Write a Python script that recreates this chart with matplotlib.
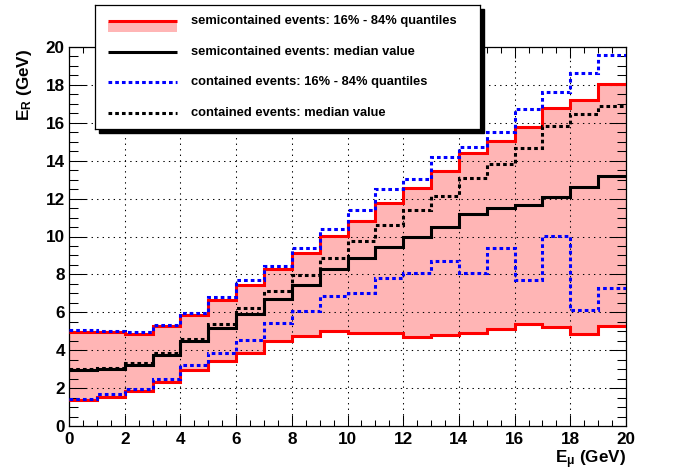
import numpy as np
import matplotlib
matplotlib.use("Agg")
import matplotlib.pyplot as plt
from matplotlib.patches import Rectangle

# Bin edges of E_mu (GeV)
edges = np.arange(0, 21, 1)

# semicontained events
semi_lo = [1.37, 1.55, 1.86, 2.34, 2.95, 3.43, 3.85, 4.47, 4.75, 5.01,
           4.89, 4.89, 4.71, 4.80, 4.89, 5.10, 5.36, 5.20, 4.85, 5.29]
semi_hi = [4.95, 4.95, 4.84, 5.28, 5.86, 6.65, 7.42, 8.27, 9.13, 10.05,
           10.82, 11.77, 12.54, 13.46, 14.39, 15.02, 15.76, 16.76, 17.20, 18.07]
semi_med = [2.94, 2.99, 3.22, 3.75, 4.47, 5.15, 5.89, 6.70, 7.42, 8.28,
            8.85, 9.43, 9.99, 10.48, 11.19, 11.49, 11.66, 12.07, 12.63, 13.18]

# contained events
cont_lo = [1.40, 1.67, 1.97, 2.50, 3.22, 3.87, 4.52, 5.42, 6.07, 6.85,
           7.00, 7.79, 8.06, 8.71, 8.06, 9.38, 7.70, 10.03, 6.12, 7.27]
cont_hi = [5.05, 5.00, 4.94, 5.31, 5.96, 6.79, 7.70, 8.46, 9.38, 10.41,
           11.39, 12.49, 13.02, 14.18, 14.74, 15.50, 16.71, 17.61, 18.61, 19.58]
cont_med = [3.00, 3.08, 3.32, 3.87, 4.59, 5.36, 6.23, 7.12, 7.97, 8.86,
            9.74, 10.61, 11.40, 12.14, 13.10, 13.81, 14.65, 15.83, 16.46, 16.89]

labels = ["semicontained events: 16% - 84% quantiles",
          "semicontained events: median value",
          "contained events: 16% - 84% quantiles",
          "contained events: median value"]

plt.rcParams["font.family"] = "Liberation Sans"
plt.rcParams["font.weight"] = "bold"
plt.rcParams["mathtext.fontset"] = "custom"
plt.rcParams["mathtext.rm"] = "Liberation Sans:bold"

W, H = 696, 474
fig = plt.figure(figsize=(W / 100, H / 100), dpi=100)
ax = fig.add_axes([69 / W, 48 / H, 557 / W, 379 / H])

pink = "#ffb5b5"
lw = 2.2
dots = (0, (1.2, 1.0))

# band + lines
ax.stairs(semi_hi, edges, baseline=semi_lo, fill=True, color=pink, lw=0, zorder=1)
ax.stairs(semi_hi, edges, baseline=None, color="red", lw=lw, zorder=3)
ax.stairs(semi_lo, edges, baseline=None, color="red", lw=lw, zorder=3)
ax.stairs(semi_med, edges, baseline=None, color="black", lw=lw, zorder=3)
ax.stairs(cont_hi, edges, baseline=None, color="blue", lw=lw, ls=dots, zorder=4)
ax.stairs(cont_lo, edges, baseline=None, color="blue", lw=lw, ls=dots, zorder=4)
ax.stairs(cont_med, edges, baseline=None, color="black", lw=lw, ls=dots, zorder=4)

ax.set_xlim(0, 20)
ax.set_ylim(0, 20)
ax.set_xticks(np.arange(0, 21, 2))
ax.set_yticks(np.arange(0, 21, 2))
ax.set_xticks(np.arange(0, 20.01, 0.5), minor=True)
ax.set_yticks(np.arange(0, 20.01, 0.5), minor=True)
ax.grid(True, which="major", color="black", lw=0.75, ls=(0, (1.3, 4)), zorder=2)

ax.tick_params(which="both", direction="in", top=True, right=True, width=0.75,
               labelsize=12.3)
ax.tick_params(axis="x", which="major", length=8, pad=4)
ax.tick_params(axis="x", which="minor", length=4.3)
ax.tick_params(axis="y", which="major", length=12.5, pad=3)
ax.tick_params(axis="y", which="minor", length=6.2)
for s in ax.spines.values():
    s.set_linewidth(0.9)

fig.text(626 / W, (H - 448) / H, r"$\mathrm{E_{μ}}$ (GeV)", ha="right", va="top",
         fontsize=12.3)
fig.text(25 / W, (H - 49) / H, r"$\mathrm{E_{R}}$ (GeV)", ha="center", va="top",
         rotation=90, fontsize=12.3)

# legend box with shadow (pixel coordinates, y from top)
lx, ly, lwid, lht = 95, 5, 385, 124
fig.patches.append(Rectangle(((lx + 4) / W, (H - ly - lht - 4) / H), lwid / W, lht / H,
                             transform=fig.transFigure, color="black", zorder=5))
leg = fig.add_axes([lx / W, (H - ly - lht) / H, lwid / W, lht / H], zorder=6)
leg.set_xlim(0, lwid)
leg.set_ylim(lht, 0)
leg.set_xticks([])
leg.set_yticks([])
for s in leg.spines.values():
    s.set_linewidth(0.9)

rows = [16, 47, 77, 108]
x0, x1 = 13, 82
leg.add_patch(Rectangle((x0, 17), x1 - x0, 10, color=pink, lw=0))
leg.plot([x0, x1], [15.5, 15.5], color="red", lw=lw, solid_capstyle="butt")
leg.plot([x0, x1], [rows[1]] * 2, color="black", lw=lw, solid_capstyle="butt")
leg.plot([x0, x1], [rows[2]] * 2, color="blue", lw=lw, ls=dots)
leg.plot([x0, x1], [rows[3]] * 2, color="black", lw=lw, ls=dots)
for r, t in zip(rows, labels):
    leg.text(96, r, t, ha="left", va="center", fontsize=9.3)

fig.savefig("out.png", dpi=100)
